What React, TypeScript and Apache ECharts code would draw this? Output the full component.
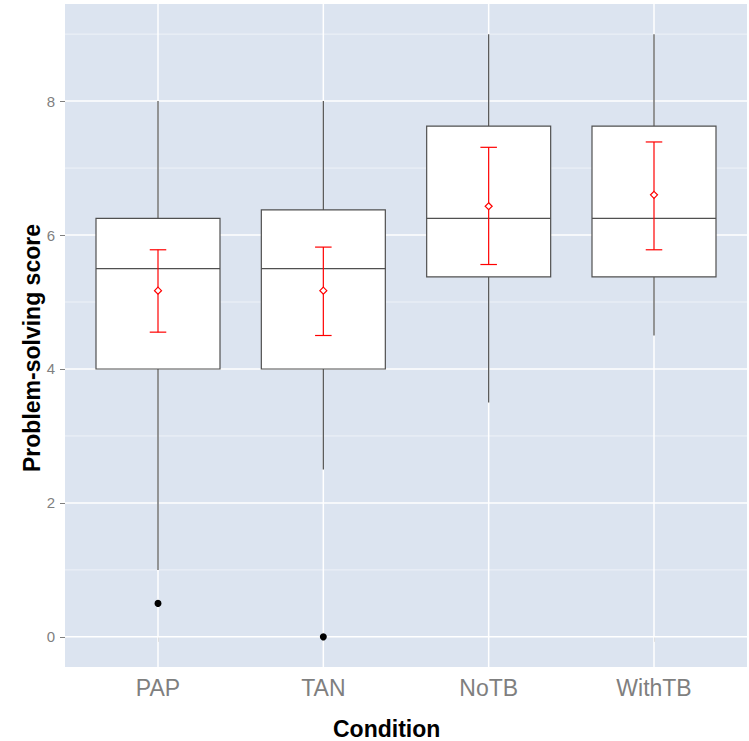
import React, { useEffect, useRef } from "react";
import * as echarts from "echarts";

const categories = ["PAP", "TAN", "NoTB", "WithTB"];
const whiskerLow = [1, 2.5, 3.5, 4.5];
const q1 = [4, 4, 5.375, 5.375];
const medians = [5.5, 5.5, 6.25, 6.25];
const q3 = [6.25, 6.375, 7.625, 7.625];
const whiskerHigh = [8, 8, 9, 9];
const outlierCat = [0, 1];
const outlierVal = [0.5, 0];
const means = [5.17, 5.17, 6.43, 6.6];
const ciLow = [4.55, 4.5, 5.56, 5.78];
const ciHigh = [5.78, 5.82, 7.31, 7.39];
const yMajorTicks = [0, 2, 4, 6, 8];
const yMinorTicks = [1, 3, 5, 7, 9];

const FONT = "'Liberation Sans', Arial, sans-serif";
const GREY = "#7F7F7F";

export default function App() {
  const ref = useRef<HTMLDivElement>(null);
  useEffect(() => {
    document.body.style.margin = "0";
    const chart = echarts.init(ref.current!, null, { renderer: "svg" });
    const catPos = categories.map((_, i) => i + 1);

    const option: any = {
      animation: false,
      backgroundColor: "#FFFFFF",
      grid: {
        left: 65,
        right: 2,
        top: 4,
        bottom: 74,
        show: true,
        backgroundColor: "#DCE4F0",
        borderWidth: 0,
      },
      xAxis: {
        type: "value",
        min: 0.4375,
        max: 4.5625,
        axisLine: { show: false },
        splitLine: { show: false },
        axisTick: {
          show: true,
          customValues: catPos,
          length: 5,
          lineStyle: { color: GREY, width: 1 },
        },
        axisLabel: {
          customValues: catPos,
          formatter: (v: number) => categories[Math.round(v) - 1] ?? "",
          fontSize: 23,
          color: GREY,
          fontFamily: FONT,
          margin: 9,
        },
      },
      yAxis: {
        type: "value",
        min: -0.45,
        max: 9.45,
        axisLine: { show: false },
        splitLine: { show: false },
        axisTick: {
          show: true,
          customValues: yMajorTicks,
          length: 5,
          lineStyle: { color: GREY, width: 1 },
        },
        axisLabel: {
          customValues: yMajorTicks,
          fontSize: 15,
          color: GREY,
          fontFamily: FONT,
          margin: 10,
        },
      },
      graphic: [
        {
          type: "text",
          left: 333,
          top: 717,
          style: {
            text: "Condition",
            font: `bold 23px ${FONT}`,
            fill: "#000",
          },
        },
        {
          type: "text",
          x: 32,
          y: 348,
          rotation: Math.PI / 2,
          style: {
            text: "Problem-solving score",
            font: `bold 23px ${FONT}`,
            fill: "#000",
            align: "center",
            verticalAlign: "middle",
          },
        },
      ],
      series: [
        {
          type: "custom",
          z: 1,
          silent: true,
          clip: false,
          data: [[1, 0]],
          renderItem: (params: any, api: any) => {
            const cs = params.coordSys;
            const children: any[] = [];
            yMinorTicks.forEach((v) => {
              const y = api.coord([1, v])[1];
              children.push({
                type: "line",
                shape: { x1: cs.x, y1: y, x2: cs.x + cs.width, y2: y },
                style: { stroke: "#EEF2F8", lineWidth: 1 },
              });
            });
            yMajorTicks.forEach((v) => {
              const y = api.coord([1, v])[1];
              children.push({
                type: "line",
                shape: { x1: cs.x, y1: y, x2: cs.x + cs.width, y2: y },
                style: { stroke: "#FFFFFF", lineWidth: 1.5 },
              });
            });
            catPos.forEach((v) => {
              const x = api.coord([v, 0])[0];
              children.push({
                type: "line",
                shape: { x1: x, y1: cs.y, x2: x, y2: cs.y + cs.height },
                style: { stroke: "#FFFFFF", lineWidth: 1.5 },
              });
            });
            return { type: "group", children };
          },
        },
        {
          type: "custom",
          z: 2,
          silent: true,
          data: categories.map((_, i) => [
            i + 1,
            whiskerLow[i],
            q1[i],
            medians[i],
            q3[i],
            whiskerHigh[i],
          ]),
          encode: { x: 0, y: [1, 2, 3, 4, 5] },
          renderItem: (params: any, api: any) => {
            const xv = api.value(0);
            const pLow = api.coord([xv, api.value(1)]);
            const pQ1 = api.coord([xv, api.value(2)]);
            const pMed = api.coord([xv, api.value(3)]);
            const pQ3 = api.coord([xv, api.value(4)]);
            const pHigh = api.coord([xv, api.value(5)]);
            const half = api.size([0.75, 0])[0] / 2;
            const stroke = "#505050";
            return {
              type: "group",
              children: [
                {
                  type: "line",
                  shape: { x1: pHigh[0], y1: pHigh[1], x2: pQ3[0], y2: pQ3[1] },
                  style: { stroke, lineWidth: 1.2 },
                },
                {
                  type: "line",
                  shape: { x1: pLow[0], y1: pLow[1], x2: pQ1[0], y2: pQ1[1] },
                  style: { stroke, lineWidth: 1.2 },
                },
                {
                  type: "rect",
                  shape: {
                    x: pQ3[0] - half,
                    y: pQ3[1],
                    width: half * 2,
                    height: pQ1[1] - pQ3[1],
                  },
                  style: { fill: "#FFFFFF", stroke, lineWidth: 1.2 },
                },
                {
                  type: "line",
                  shape: {
                    x1: pMed[0] - half,
                    y1: pMed[1],
                    x2: pMed[0] + half,
                    y2: pMed[1],
                  },
                  style: { stroke, lineWidth: 1.2 },
                },
              ],
            };
          },
        },
        {
          type: "scatter",
          z: 3,
          silent: true,
          symbol: "circle",
          symbolSize: 7,
          itemStyle: { color: "#000000", opacity: 1 },
          data: outlierCat.map((c, i) => [c + 1, outlierVal[i]]),
        },
        {
          type: "custom",
          z: 4,
          silent: true,
          data: categories.map((_, i) => [i + 1, ciLow[i], ciHigh[i], means[i]]),
          encode: { x: 0, y: [1, 2, 3] },
          renderItem: (params: any, api: any) => {
            const xv = api.value(0);
            const pLo = api.coord([xv, api.value(1)]);
            const pHi = api.coord([xv, api.value(2)]);
            const pM = api.coord([xv, api.value(3)]);
            const cap = api.size([0.1, 0])[0] / 2;
            const red = "#FF0000";
            const d = 3.5;
            return {
              type: "group",
              children: [
                {
                  type: "line",
                  shape: { x1: pLo[0], y1: pLo[1], x2: pHi[0], y2: pHi[1] },
                  style: { stroke: red, lineWidth: 1.2 },
                },
                {
                  type: "line",
                  shape: { x1: pHi[0] - cap, y1: pHi[1], x2: pHi[0] + cap, y2: pHi[1] },
                  style: { stroke: red, lineWidth: 1.2 },
                },
                {
                  type: "line",
                  shape: { x1: pLo[0] - cap, y1: pLo[1], x2: pLo[0] + cap, y2: pLo[1] },
                  style: { stroke: red, lineWidth: 1.2 },
                },
                {
                  type: "polygon",
                  shape: {
                    points: [
                      [pM[0], pM[1] - d],
                      [pM[0] + d, pM[1]],
                      [pM[0], pM[1] + d],
                      [pM[0] - d, pM[1]],
                    ],
                  },
                  style: { fill: "#FFFFFF", stroke: red, lineWidth: 1.2 },
                },
              ],
            };
          },
        },
      ],
    };
    chart.setOption(option);
    return () => chart.dispose();
  }, []);
  return <div ref={ref} style={{ width: 749, height: 741 }} />;
}
